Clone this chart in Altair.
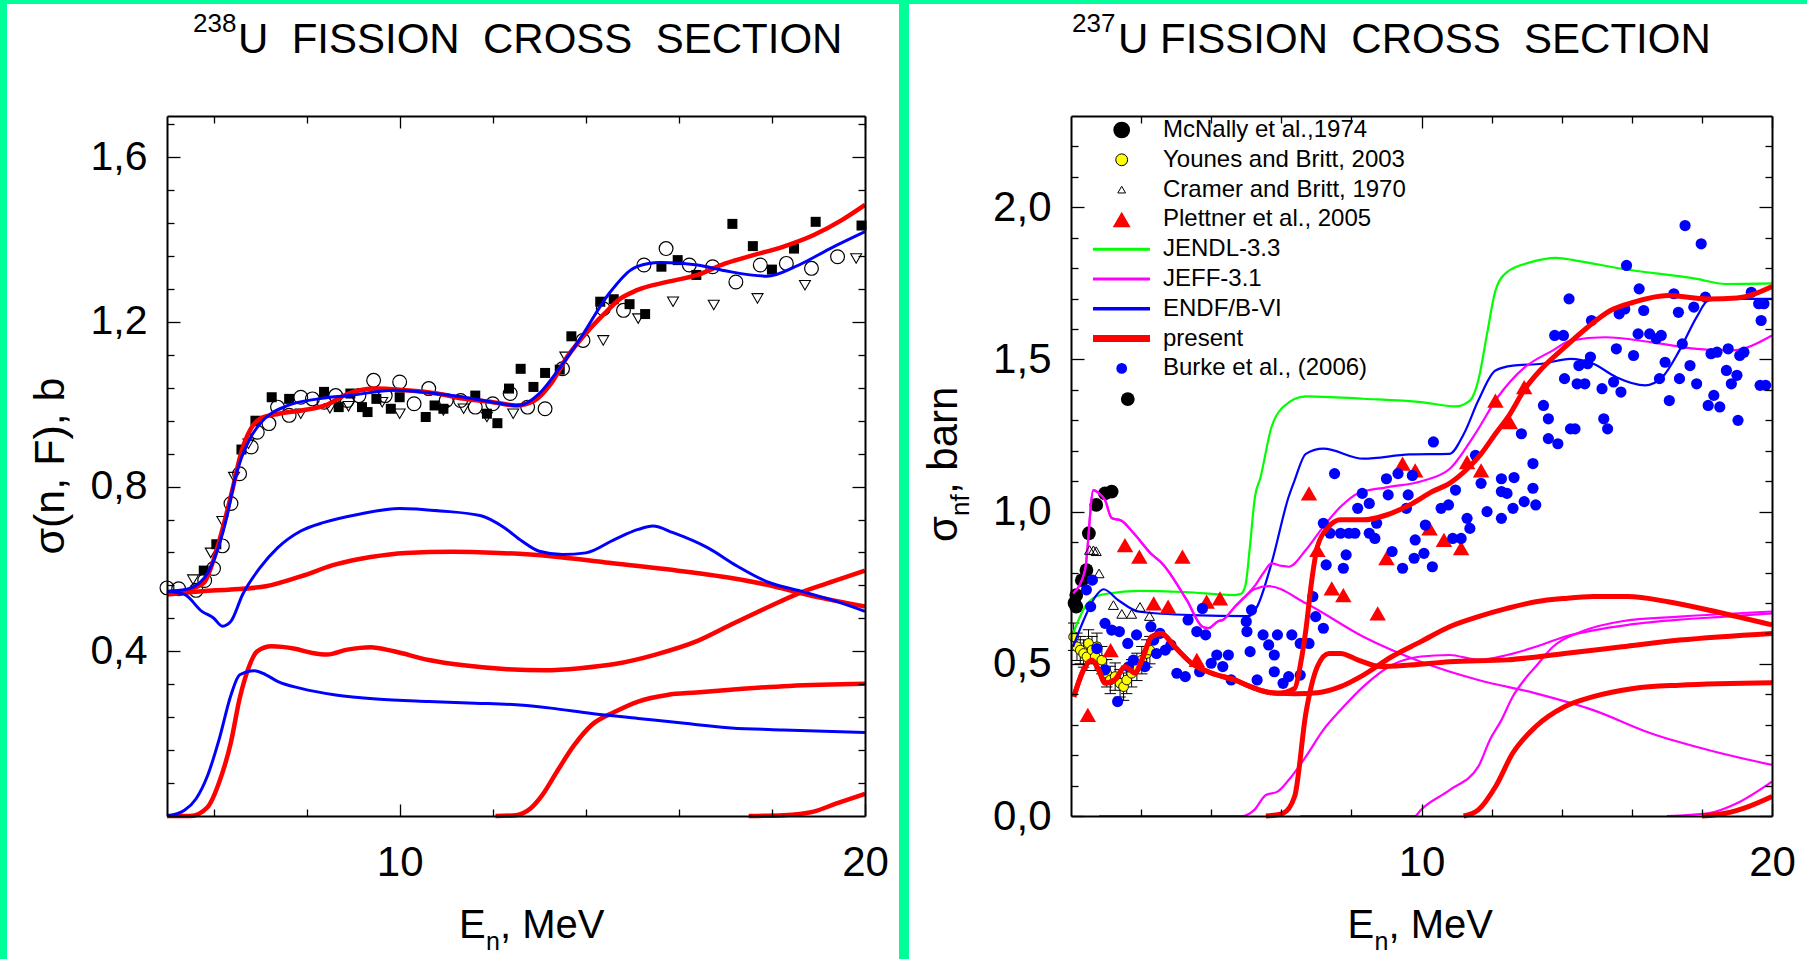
import altair as alt
import pandas as pd

FONT = "Liberation Sans"
BG = "#00FF99"

# ======================= LEFT PANEL : 238U =======================
L_W, L_H = 698, 700
L_XDOM = [5, 20]
L_YDOM = [0, 1.7]

L_red_total = [(5.0, .540), (5.3, .545), (5.6, .555), (5.8, .567), (5.95, .605), (6.2, .700), (6.4, .790),
               (6.6, .885), (6.8, .940), (7.0, .965), (7.4, .977), (7.9, .985), (8.4, .997), (8.9, 1.026),
               (9.5, 1.038), (10.1, 1.034), (10.8, 1.026), (11.4, 1.013), (12.0, 1.005), (12.5, .997),
               (12.9, 1.009), (13.25, 1.050), (13.6, 1.115), (14.0, 1.172), (14.4, 1.220), (14.75, 1.257),
               (15.1, 1.277), (15.75, 1.297), (16.4, 1.314), (17.0, 1.342), (17.6, 1.362), (18.25, 1.383),
               (18.9, 1.411), (19.5, 1.447), (20.0, 1.484)]
L_blue_total = [(5.0, .546), (5.4, .550), (5.8, .578), (6.1, .651), (6.3, .733), (6.45, .814), (6.6, .870),
                (6.8, .920), (7.0, .953), (7.6, .997), (8.25, 1.013), (8.9, 1.021), (9.9, 1.034), (10.75, 1.026),
                (11.4, 1.017), (12.0, 1.005), (12.55, .997), (13.0, 1.026), (13.4, 1.082), (13.9, 1.163),
                (14.5, 1.269), (15.1, 1.334), (15.6, 1.344), (16.4, 1.338), (17.0, 1.324), (17.9, 1.311),
                (18.5, 1.334), (19.25, 1.378), (20.0, 1.419)]
L_blue_first = [(5.0, .546), (5.375, .538), (5.75, .497), (6.0, .481), (6.19, .461), (6.375, .473), (6.625, .538),
                (7.0, .603), (7.375, .651), (7.875, .692), (8.375, .713), (9.125, .733), (10.0, .747), (10.875, .741),
                (11.75, .729), (12.25, .700), (12.625, .668), (13.0, .643), (13.5, .635), (14.0, .639), (14.625, .672),
                (15.125, .696), (15.44, .704), (15.875, .688), (16.625, .651), (17.25, .607), (17.875, .570),
                (18.625, .546), (19.25, .526), (20.0, .497)]
L_red_first = [(5.0, .538), (5.75, .546), (6.375, .550), (7.125, .558), (7.875, .582), (8.625, .611), (9.375, .629),
               (10.125, .639), (11.125, .642), (12.125, .639), (13.25, .631), (14.5, .615), (15.75, .599),
               (17.125, .578), (17.875, .562), (18.875, .534), (20.0, .509)]
L_red_second = [(5.0, 0.0), (5.5, 0.0), (5.875, .022), (6.125, .083), (6.375, .180), (6.5625, .286), (6.75, .359),
                (6.9375, .400), (7.25, .412), (7.75, .406), (8.125, .396), (8.4375, .392), (8.875, .404), (9.375, .410),
                (9.875, .400), (10.625, .379), (11.375, .366), (12.25, .357), (13.125, .354), (13.875, .359),
                (14.625, .369), (15.5, .392), (16.375, .424), (17.125, .465), (17.875, .505), (18.6, .542),
                (19.375, .572), (20.0, .596)]
L_blue_second = [(5.0, 0.0), (5.375, .014), (5.625, .042), (5.875, .099), (6.125, .188), (6.375, .294), (6.5625, .343),
                 (6.875, .353), (7.125, .343), (7.375, .327), (7.875, .310), (8.625, .294), (9.5, .284), (10.625, .278),
                 (11.625, .274), (12.5, .270), (13.25, .262), (14.125, .249), (15.125, .237), (16.125, .225),
                 (17.125, .214), (18.25, .209), (20.0, .203)]
L_red_third = [(12.06, 0.0), (12.5, .002), (12.81, .018), (13.06, .050), (13.375, .107), (13.75, .172), (14.125, .221),
               (14.625, .253), (15.125, .278), (15.75, .294), (16.375, .300), (17.375, .309), (18.375, .316), (20.0, .321)]
L_red_fourth = [(17.5, 0.0), (18.25, .002), (18.875, .010), (19.375, .030), (20.0, .054)]

L_squares = [(5.79, .596), (6.06, .66), (6.6, .89), (6.9, .96), (7.25, 1.017), (7.625, 1.013), (8.375, 1.030),
             (8.69, .993), (8.94, 1.026), (9.19, .993), (9.31, .981), (9.5, 1.013), (9.81, .989), (10.0, 1.017),
             (10.56, .969), (10.75, .997), (10.94, .989), (11.625, 1.021), (11.875, .977), (12.1, .954),
             (12.35, 1.038), (12.6, 1.086), (12.875, 1.042), (13.125, 1.076), (13.44, 1.084), (13.69, 1.165),
             (14.31, 1.249), (14.6, 1.255), (14.94, 1.243), (15.275, 1.219), (15.625, 1.334), (15.975, 1.350),
             (16.375, 1.314), (17.15, 1.438), (17.59, 1.384), (18.0, 1.327), (18.475, 1.378), (18.94, 1.443),
             (19.925, 1.434)]
L_circles = [(5.0, .554), (5.25, .552), (5.625, .548), (5.81, .572), (6.0, .601), (6.19, .656), (6.375, .759),
             (6.56, .831), (6.81, .896), (6.94, .932), (7.19, .953), (7.375, .993), (7.625, .973), (7.875, 1.017),
             (8.125, 1.013), (8.375, 1.005), (8.625, 1.021), (8.875, 1.009), (9.125, 1.021), (9.44, 1.058),
             (9.69, 1.021), (10.0, 1.054), (10.31, 1.001), (10.625, 1.038), (11.0, 1.009), (11.31, 1.009),
             (11.625, .993), (12.0, 1.001), (12.375, 1.026), (12.75, .993), (13.125, .989), (13.5, 1.086),
             (13.94, 1.155), (14.375, 1.232), (14.81, 1.228), (15.25, 1.338), (15.725, 1.378), (16.225, 1.338),
             (16.725, 1.334), (17.225, 1.297), (17.75, 1.338), (18.31, 1.342), (18.85, 1.330), (19.41, 1.358)]
L_triangles = [(5.56, .574), (5.94, .639), (6.19, .716), (6.44, .823), (6.75, .904), (7.875, .977), (8.5, .99),
               (8.9, .995), (9.625, 1.005), (10.0, .977), (10.94, .985), (11.375, .989), (11.875, .969),
               (12.44, .977), (13.56, 1.115), (14.375, 1.155), (15.125, 1.208), (15.875, 1.249), (16.75, 1.241),
               (17.69, 1.257), (18.71, 1.289), (19.81, 1.354)]

L_Y_MAJOR = [0.4, 0.8, 1.2, 1.6]
L_Y_MINOR = [0.08, 0.16, 0.24, 0.32, 0.48, 0.56, 0.64, 0.72, 0.88, 0.96, 1.04, 1.12, 1.28, 1.36, 1.44, 1.52, 1.68]
L_X_MAJOR = [10, 20]
L_X_MINOR = [6, 8, 12, 14, 16, 18]

# ======================= RIGHT PANEL : 237U =======================
R_W, R_H = 701, 700
R_XDOM = [0, 20]
R_YDOM = [0, 2.3]

R_green = [(0.06, .600), (0.40, .687), (0.69, .720), (1.07, .731), (1.92, .740), (3.25, .736), (4.67, .726),
           (4.85, .730), (4.98, .760), (5.1, .880), (5.25, 1.050), (5.4, 1.110), (5.72, 1.278), (6.05, 1.344),
           (6.70, 1.379), (8.34, 1.371), (9.98, 1.360), (10.97, 1.346), (11.38, 1.365), (11.62, 1.431),
           (11.87, 1.584), (12.11, 1.726), (12.44, 1.787), (13.10, 1.819), (13.84, 1.834), (14.41, 1.825),
           (15.72, 1.798), (17.85, 1.765), (18.67, 1.748), (20.0, 1.750)]
R_blue = [(0.06, .556), (0.40, .654), (0.69, .720), (0.93, .745), (1.35, .709), (1.95, .671), (3.43, .660),
          (5.07, .657), (5.31, .688), (5.72, .830), (6.21, 1.049), (6.38, 1.103), (6.70, 1.190), (7.20, 1.207),
          (8.34, 1.174), (9.66, 1.188), (10.8, 1.190), (11.21, 1.256), (11.62, 1.365), (12.11, 1.464),
          (12.61, 1.480), (13.43, 1.486), (14.25, 1.502), (14.9, 1.486), (15.56, 1.442), (16.38, 1.415),
          (16.87, 1.442), (17.36, 1.530), (17.85, 1.639), (18.18, 1.694), (18.67, 1.699), (20.0, 1.699)]
R_mag_total = [(0.06, .731), (0.40, .808), (0.64, 1.071), (0.80, 1.060), (0.97, 1.038), (1.16, .979), (1.44, .970),
               (1.79, .929), (2.3, .860), (2.6, .830), (3.3, .710), (3.75, .622), (3.92, .617), (4.2, .640),
               (4.33, .644), (4.67, .687), (4.96, .720), (5.23, .754), (5.5, .800), (5.72, .830), (6.0, .822),
               (6.21, .819), (6.70, .874), (7.2, .951), (7.69, 1.016), (8.18, 1.060), (9.0, 1.080), (10.0, 1.100),
               (10.8, 1.140), (11.5, 1.250), (12.2, 1.380), (12.9, 1.470), (13.75, 1.530), (14.25, 1.562),
               (15.23, 1.573), (16.54, 1.557), (17.85, 1.535), (18.84, 1.530), (20.0, 1.579)]
R_mag_first = [(0.06, .731), (0.40, .808), (0.64, 1.071), (0.80, 1.060), (0.97, 1.038), (1.16, .979), (1.44, .970),
               (1.79, .929), (2.3, .860), (2.6, .830), (3.3, .710), (3.75, .622), (3.92, .617), (4.2, .640),
               (4.33, .644), (4.67, .687), (4.96, .720), (5.23, .745), (5.64, .755), (6.7, .699), (8.34, .589),
               (9.98, .507), (11.62, .447), (13.26, .403), (14.9, .348), (16.54, .272), (18.18, .217), (20.0, .168)]
R_mag_second = [(0.8, 0.0), (4.9, 0.0), (5.23, .020), (5.56, .069), (5.89, .080), (6.21, .118), (6.70, .195),
                (7.2, .283), (7.69, .348), (8.34, .425), (9.16, .496), (9.98, .524), (10.8, .529), (11.62, .513),
                (12.44, .529), (13.26, .556), (14.08, .589), (14.9, .610), (15.89, .628), (17.36, .645),
                (18.67, .655), (20.0, .666)]
R_mag_third = [(6.54, 0.0), (9.82, 0.0), (9.98, .020), (10.8, .085), (11.62, .162), (11.95, .250), (12.28, .315),
               (12.6, .392), (12.93, .447), (13.26, .491), (13.75, .556), (14.57, .606), (15.72, .640), (17.36, .655),
               (20.0, .672)]
R_mag_fourth = [(17.0, 0.0), (18.18, .009), (19.0, .042), (20.0, .113)]
R_red_total = [(0.08, .392), (0.25, .450), (0.40, .490), (0.60, .512), (0.79, .480), (0.97, .437), (1.25, .447),
               (1.54, .490), (1.83, .470), (2.02, .512), (2.3, .589), (2.58, .600), (2.96, .556), (3.44, .502),
               (4.0, .470), (4.67, .447), (5.14, .424), (5.5, .410), (5.89, .403), (6.38, .419), (6.55, .500),
               (6.70, .611), (6.87, .775), (7.03, .885), (7.36, .951), (7.69, .973), (8.34, .973), (9.0, .989),
               (9.66, 1.022), (10.31, 1.066), (10.8, 1.093), (11.3, 1.140), (11.7, 1.190), (12.11, 1.256),
               (12.52, 1.320), (12.93, 1.400), (13.43, 1.470), (14.08, 1.540), (14.74, 1.606), (15.39, 1.661),
               (16.05, 1.688), (17.03, 1.710), (18.18, 1.699), (19.0, 1.702), (20.0, 1.740)]
R_red_first = [(0.08, .392), (0.25, .450), (0.40, .490), (0.60, .512), (0.79, .480), (0.97, .437), (1.25, .447),
               (1.54, .490), (1.83, .470), (2.02, .512), (2.3, .589), (2.58, .600), (2.96, .556), (3.44, .502),
               (4.0, .470), (4.67, .447), (5.14, .424), (5.5, .410), (5.89, .403), (6.4, .402), (7.03, .405),
               (7.69, .425), (8.34, .463), (9.16, .524), (9.98, .573), (10.8, .622), (11.62, .655), (12.44, .682),
               (13.26, .704), (14.08, .715), (14.9, .721), (15.89, .721), (17.03, .704), (18.18, .677), (19.0, .655),
               (20.0, .628)]
R_red_second = [(5.56, 0.0), (6.05, .009), (6.38, .064), (6.70, .337), (7.03, .491), (7.36, .534), (7.69, .534),
                (8.18, .513), (8.84, .491), (9.66, .496), (10.8, .507), (12.44, .513), (14.08, .534), (15.72, .556),
                (17.36, .578), (20.0, .600)]
R_red_third = [(11.2, 0.0), (11.62, .020), (12.11, .096), (12.6, .206), (13.26, .294), (14.08, .359), (14.9, .392),
               (16.05, .419), (17.36, .430), (20.0, .438)]
R_red_fourth = [(18.0, 0.0), (18.67, .009), (19.33, .031), (20.0, .064)]

R_mcnally = [(0.1, .700), (0.15, .726), (0.15, .688), (0.31, .775), (0.44, .808), (0.51, .929), (0.72, 1.022),
             (0.97, 1.060), (1.16, 1.066), (1.62, 1.370)]
R_younes = [(0.076, .589), (0.17, .556), (0.265, .545), (0.36, .534), (0.455, .523), (0.50, .567), (0.60, .545),
            (0.69, .523), (0.74, .556), (0.88, .512), (1.02, .469), (1.12, .447), (1.26, .458), (1.40, .436),
            (1.50, .425), (1.59, .447), (1.73, .469), (1.88, .490), (2.02, .512), (2.16, .534), (2.25, .545)]
R_younes_err = [0.045, 0.045, 0.045, 0.045, 0.045, 0.045, 0.045, 0.045, 0.045, 0.045, 0.045, 0.045, 0.045, 0.045,
                0.045, 0.045, 0.045, 0.045, 0.045, 0.045, 0.045]
R_cramer = [(0.53, .874), (0.64, .873), (0.72, .870), (0.80, .797), (1.21, .693), (1.45, .664), (1.73, .664),
            (1.97, .687), (2.24, .657)]
R_plettner = [(0.48, .332), (1.13, .545), (1.54, .890), (1.95, .852), (3.18, .852), (2.36, .699), (2.77, .688),
              (3.59, .513), (3.87, .704), (4.25, .715), (6.79, 1.060), (7.03, .874), (7.44, .748), (7.77, .726),
              (8.75, .666), (9.0, .847), (10.23, .945), (10.64, .907), (11.13, .880), (9.46, 1.158), (9.82, 1.136),
              (11.3, 1.163), (11.7, 1.136), (12.11, 1.365), (12.52, 1.294), (12.93, 1.409)]
R_burke = [(0.44, .743), (0.61, .775), (0.56, .688), (0.97, .633), (1.38, .606), (0.97, .480), (1.33, .376),
           (1.62, .567), (1.87, .595), (2.11, .491), (2.28, .622), (2.36, .578), (2.44, .534), (2.69, .545),
           (2.85, .562), (3.02, .469), (3.26, .458), (3.34, .644), (3.59, .606), (3.67, .474), (3.75, .682),
           (3.84, .595), (4.0, .502), (4.16, .529), (4.33, .491), (4.49, .529), (4.57, .447), (5.0, .639),
           (5.02, .606), (5.11, .540), (5.15, .677), (5.31, .447), (5.48, .595), (5.64, .562), (5.8, .529),
           (5.89, .595), (5.8, .474), (6.05, .436), (6.21, .458), (6.3, .595), (6.54, .463), (6.54, .567),
           (6.79, .567), (6.9, .721), (6.98, .655), (7.2, .617), (7.2, .962), (7.28, .825), (7.39, .929),
           (7.77, .814), (7.85, .858), (7.69, .929), (7.93, .929), (8.1, .929), (8.18, 1.011), (8.31, 1.060),
           (8.51, 1.027), (8.51, .929), (8.67, .912), (8.72, .962), (9.05, 1.055), (9.16, .869), (9.46, .814),
           (9.57, 1.011), (9.62, 1.055), (9.79, .847), (9.82, .907), (10.07, .863), (10.11, .956), (10.31, .819),
           (10.56, 1.011), (10.77, 1.022), (10.89, .912), (11.13, .912), (10.97, 1.071), (11.3, .978),
           (11.38, .945), (11.87, 1.000), (12.28, .978), (12.44, 1.060), (12.61, 1.011), (12.93, 1.033),
           (13.18, 1.077), (13.26, 1.022), (11.7, 1.093), (12.28, 1.066), (0.74, .550), (1.16, .611), (1.64, .490),
           (1.78, .512), (2.54, .600), (7.52, 1.125), (9.0, 1.108), (9.33, 1.125), (9.74, 1.119), (10.34, 1.229),
           (11.54, 1.185), (12.28, 1.108), (12.64, 1.112), (12.85, 1.256), (13.18, 1.158), (13.48, 1.349),
           (13.62, 1.305), (13.62, 1.240), (13.89, 1.223), (13.8, 1.579), (14.05, 1.579), (14.08, 1.437),
           (14.21, 1.699), (14.25, 1.272), (14.38, 1.272), (14.44, 1.420), (14.49, 1.480), (14.66, 1.420),
           (14.74, 1.486), (14.82, 1.508), (14.85, 1.628), (15.15, 1.404), (15.2, 1.305), (15.31, 1.272),
           (15.48, 1.426), (15.56, 1.535), (15.64, 1.650), (15.69, 1.393), (15.8, 1.666), (15.85, 1.809),
           (16.05, 1.513), (16.18, 1.584), (16.21, 1.732), (16.34, 1.661), (16.51, 1.584), (16.7, 1.568),
           (16.84, 1.579), (16.79, 1.437), (16.95, 1.491), (17.07, 1.365), (17.2, 1.716), (17.36, 1.437),
           (17.33, 1.655), (17.44, 1.551), (17.52, 1.940), (17.66, 1.480), (17.77, 1.672), (17.85, 1.420),
           (17.98, 1.880), (18.1, 1.705), (18.18, 1.349), (18.26, 1.519), (18.34, 1.382), (18.43, 1.524),
           (18.51, 1.344), (18.7, 1.464), (18.75, 1.535), (18.84, 1.420), (19.0, 1.448), (19.03, 1.300),
           (19.08, 1.513), (19.2, 1.524), (19.41, 1.721), (19.62, 1.683), (19.69, 1.628), (19.66, 1.415),
           (19.77, 1.683), (19.82, 1.415)]

R_Y_MAJOR = [0.0, 0.5, 1.0, 1.5, 2.0]
R_Y_MINOR = [0.1, 0.2, 0.3, 0.4, 0.6, 0.7, 0.8, 0.9, 1.1, 1.2, 1.3, 1.4, 1.6, 1.7, 1.8, 1.9, 2.1, 2.2]
R_X_MAJOR = [10, 20]
R_X_MINOR = [2, 4, 6, 8, 12, 14, 16, 18]

LEGEND_LABELS = ["McNally et al.,1974", "Younes and Britt, 2003", "Cramer and Britt, 1970",
                 "Plettner et al., 2005", "JENDL-3.3", "JEFF-3.1", "ENDF/B-VI", "present",
                 "Burke et al., (2006)"]
LEGEND_ROW_Y = [14, 43.8, 73.6, 103.4, 133.2, 163, 192.8, 222.6, 252.4]

ONE = alt.Data(values=[{"a": 1}])


def cdf(items):
    return pd.concat([pd.DataFrame(pts, columns=["E", "s"]).assign(curve=name) for name, pts in items],
                     ignore_index=True)


def enc(xs, ys):
    return dict(x=alt.X("E:Q", scale=xs, axis=None), y=alt.Y("s:Q", scale=ys, axis=None))


def lines(items, color, width, xs, ys):
    return alt.Chart(cdf(items)).mark_line(color=color, strokeWidth=width, interpolate="monotone").encode(
        detail="curve:N", **enc(xs, ys))


def points(pts, xs, ys, **mk):
    return alt.Chart(pd.DataFrame(pts, columns=["E", "s"])).mark_point(opacity=1, **mk).encode(**enc(xs, ys))


def text(s, x, y, size, angle=0, align="left", baseline="alphabetic"):
    return alt.Chart(ONE).mark_text(text=s, font=FONT, fontSize=size, angle=angle, align=align,
                                    baseline=baseline, color="black").encode(x=alt.value(x), y=alt.value(y))


def panel_rect(x1, x2, y1, y2, color="white"):
    return alt.Chart(ONE).mark_rect(color=color).encode(
        x=alt.value(x1), x2=alt.value(x2), y=alt.value(y1), y2=alt.value(y2))


def frame_axis(orient):
    return alt.Axis(orient=orient, title=None, grid=False, domain=True, domainColor="black",
                    domainWidth=2, ticks=False, labels=False, zindex=2)


def tick_axis(orient, values, size, labels=False, label_expr=None, label_size=42, label_pad=20):
    kw = dict(orient=orient, title=None, grid=False, domain=False, values=values, ticks=True,
              tickSize=size, offset=-size, tickColor="black", tickWidth=1.3, zindex=2, labels=labels)
    if labels:
        kw.update(labelFont=FONT, labelFontSize=label_size, labelColor="black", labelPadding=label_pad,
                  labelFlush=False, labelOverlap=False)
        if label_expr:
            kw.update(labelExpr=label_expr)
    return alt.Axis(**kw)


def axis_layers(xs, ys, x0, y0, xmaj, xmin, ymaj, ymin, ylab_size, ylab_pad):
    comma = "replace(format(datum.value, '.1f'), '.', ',')"
    specs = [
        (frame_axis("bottom"), frame_axis("left")),
        (frame_axis("top"), frame_axis("right")),
        (tick_axis("bottom", xmaj, 12, labels=True, label_size=42, label_pad=26),
         tick_axis("left", ymaj, 13, labels=True, label_expr=comma, label_size=ylab_size, label_pad=ylab_pad)),
        (tick_axis("top", xmaj, 12), tick_axis("right", ymaj, 13)),
        (tick_axis("bottom", xmin, 7), tick_axis("left", ymin, 7)),
        (tick_axis("top", xmin, 7), tick_axis("right", ymin, 7)),
    ]
    out = []
    for ax_x, ax_y in specs:
        out.append(alt.Chart(alt.Data(values=[{"E": x0, "s": y0}])).mark_point(opacity=0).encode(
            x=alt.X("E:Q", scale=xs, axis=ax_x), y=alt.Y("s:Q", scale=ys, axis=ax_y)))
    return out


# ---------------- left chart ----------------
lxs = alt.Scale(domain=L_XDOM, nice=False, zero=False)
lys = alt.Scale(domain=L_YDOM, nice=False, zero=False)

left_layers = [
    panel_rect(-167, 1640, -116, 843, BG),      # whole-page green backdrop (defines the canvas bounds)
    panel_rect(-160, 732, -112, 843),           # white left panel
    text("238", 26, -84.3, 26),
    text("U\u00a0\u00a0FISSION\u00a0\u00a0CROSS\u00a0\u00a0SECTION", 71, -62.7, 42),
    text("σ(n, F), b", -103, 350, 43, angle=270, align="center"),
    text("E", 292, 822, 40), text("n", 319, 834, 25), text(", MeV", 333, 822, 40),
    points(L_squares, lxs, lys, shape="square", size=100, filled=True, color="black"),
    points(L_circles, lxs, lys, shape="circle", size=190, filled=False, color="black", strokeWidth=1.2),
    points(L_triangles, lxs, lys, shape="triangle-down", size=120, filled=False, color="black", strokeWidth=1.1),
    lines([("rt", L_red_total), ("r1", L_red_first), ("r2", L_red_second), ("r3", L_red_third),
           ("r4", L_red_fourth)], "#FF0000", 4.5, lxs, lys),
    lines([("bt", L_blue_total), ("b1", L_blue_first), ("b2", L_blue_second)], "#0000FF", 3, lxs, lys),
] + axis_layers(lxs, lys, 5, 0, L_X_MAJOR, L_X_MINOR, L_Y_MAJOR, L_Y_MINOR, 41, 20)

left = alt.layer(*left_layers).resolve_axis(x="independent", y="independent").properties(width=L_W, height=L_H)

# ---------------- right chart ----------------
rxs = alt.Scale(domain=R_XDOM, nice=False, zero=False)
rys = alt.Scale(domain=R_YDOM, nice=False, zero=False)

yo = pd.DataFrame(R_younes, columns=["E", "s"])
yo["lo"] = yo["s"] - pd.Series(R_younes_err)
yo["hi"] = yo["s"] + pd.Series(R_younes_err)
err_rule = alt.Chart(yo).mark_rule(color="black", strokeWidth=1).encode(
    x=alt.X("E:Q", scale=rxs, axis=None), y=alt.Y("lo:Q", scale=rys, axis=None), y2="hi:Q")
cap_lo = alt.Chart(yo).mark_point(shape="M-1,0L1,0", size=130, filled=False, color="black", strokeWidth=1,
                                  opacity=1).encode(x=alt.X("E:Q", scale=rxs, axis=None),
                                                    y=alt.Y("lo:Q", scale=rys, axis=None))
cap_hi = alt.Chart(yo).mark_point(shape="M-1,0L1,0", size=130, filled=False, color="black", strokeWidth=1,
                                  opacity=1).encode(x=alt.X("E:Q", scale=rxs, axis=None),
                                                    y=alt.Y("hi:Q", scale=rys, axis=None))

LEG_SYM_X = 50.7
LEG_TXT_X = 92


def leg_point(row, **mk):
    d = pd.DataFrame({"lx": [LEG_SYM_X], "ly": [LEGEND_ROW_Y[row]]})
    return alt.Chart(d).mark_point(opacity=1, **mk).encode(
        x=alt.X("lx:Q", scale=None, axis=None), y=alt.Y("ly:Q", scale=None, axis=None))


def leg_line(row, color, width):
    d = pd.DataFrame({"x1": [22], "x2": [79], "ly": [LEGEND_ROW_Y[row]]})
    return alt.Chart(d).mark_rule(color=color, strokeWidth=width).encode(
        x=alt.X("x1:Q", scale=None, axis=None), x2="x2:Q", y=alt.Y("ly:Q", scale=None, axis=None))


leg_text = alt.Chart(pd.DataFrame({"lx": [LEG_TXT_X] * len(LEGEND_LABELS), "ly": LEGEND_ROW_Y,
                                   "label": LEGEND_LABELS})).mark_text(
    font=FONT, fontSize=24, align="left", baseline="middle", color="black").encode(
    x=alt.X("lx:Q", scale=None, axis=None), y=alt.Y("ly:Q", scale=None, axis=None), text="label:N")

right_layers = [
    panel_rect(-162, 736, -112, 843),
    text("237", 1, -84.3, 26),
    text("U FISSION\u00a0\u00a0CROSS\u00a0\u00a0SECTION", 47, -62.7, 42),
    text("σ", -114, 426, 42, angle=270), text("nf", -102, 400, 26, angle=270),
    text(", barn", -114, 378, 42, angle=270),
    text("E", 276.5, 822, 40), text("n", 303.5, 834, 25), text(", MeV", 317.5, 822, 40),
    points(R_mcnally, rxs, rys, shape="circle", size=190, filled=True, color="black"),
    err_rule, cap_lo, cap_hi,
    points(R_younes, rxs, rys, shape="circle", size=95, filled=True, fill="#FFFF00", stroke="black",
           strokeWidth=0.9),
    lines([("g", R_green)], "#00FF00", 2.2, rxs, rys),
    lines([("b", R_blue)], "#0000FF", 2.2, rxs, rys),
    lines([("mt", R_mag_total), ("m1", R_mag_first), ("m2", R_mag_second), ("m3", R_mag_third),
           ("m4", R_mag_fourth)], "#FF00FF", 2.2, rxs, rys),
    points(R_cramer, rxs, rys, shape="triangle-up", size=100, filled=False, color="black", strokeWidth=1),
    points(R_plettner, rxs, rys, shape="triangle-up", size=270, filled=True, color="#FF0000"),
    points(R_burke, rxs, rys, shape="circle", size=125, filled=True, color="#0000FF"),
    lines([("rt", R_red_total), ("r1", R_red_first), ("r2", R_red_second), ("r3", R_red_third),
           ("r4", R_red_fourth)], "#FF0000", 5, rxs, rys),
    leg_point(0, shape="circle", size=280, filled=True, color="black"),
    leg_point(1, shape="circle", size=140, filled=True, fill="#FFFF00", stroke="black", strokeWidth=1),
    leg_point(2, shape="triangle-up", size=60, filled=False, color="black", strokeWidth=1),
    leg_point(3, shape="triangle-up", size=320, filled=True, color="#FF0000"),
    leg_line(4, "#00FF00", 3),
    leg_line(5, "#FF00FF", 3),
    leg_line(6, "#0000FF", 3.5),
    leg_line(7, "#FF0000", 7),
    leg_point(8, shape="circle", size=115, filled=True, color="#0000FF"),
    leg_text,
] + axis_layers(rxs, rys, 0, 0, R_X_MAJOR, R_X_MINOR, R_Y_MAJOR, R_Y_MINOR, 42, 20)

right = alt.layer(*right_layers).resolve_axis(x="independent", y="independent").properties(width=R_W, height=R_H)

chart = alt.hconcat(left, right, spacing=206, bounds="flush").properties(
    background=BG,
    padding=0,
).configure(font=FONT).configure_view(strokeWidth=0)

chart.save("out.html", embed_options={"renderer": "svg", "actions": False})
